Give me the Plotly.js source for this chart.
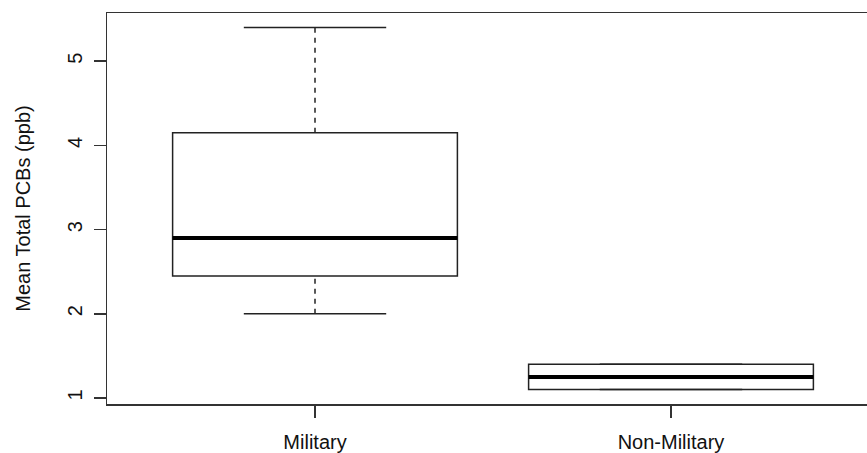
<!DOCTYPE html>
<html>
<head>
<meta charset="utf-8">
<script src="https://cdn.plot.ly/plotly-3.0.1.min.js"></script>
<style>html,body{margin:0;padding:0;background:#fff;}</style>
</head>
<body>
<div id="chart" style="width:867px;height:453px;"></div>
<script>
// Data
const categories = ['Military', 'Non-Military'];
const xPositions = [1, 2];
const minVals = [2.0, 1.1];
const q1Vals = [2.45, 1.1];
const medianVals = [2.9, 1.25];
const q3Vals = [4.15, 1.4];
const maxVals = [5.4, 1.4];
const yTicks = [1, 2, 3, 4, 5];

const BOX_W = 0.8;
const STAPLE_HALF = BOX_W / 4;
const LINE = '#222';

const boxTrace = {
  type: 'box',
  x: xPositions,
  q1: q1Vals,
  median: medianVals,
  q3: q3Vals,
  lowerfence: q1Vals,
  upperfence: q3Vals,
  width: BOX_W,
  whiskerwidth: 0,
  line: {color: LINE, width: 1.5},
  fillcolor: 'rgba(0,0,0,0)',
  boxpoints: false,
  showlegend: false,
  hoverinfo: 'skip'
};

const wx = [], wy = [];
const sx = [], sy = [];
const mx = [], my = [];
xPositions.forEach((x, i) => {
  if (maxVals[i] > q3Vals[i]) { wx.push(x, x, null); wy.push(q3Vals[i], maxVals[i], null); }
  if (minVals[i] < q1Vals[i]) { wx.push(x, x, null); wy.push(minVals[i], q1Vals[i], null); }
  sx.push(x - STAPLE_HALF, x + STAPLE_HALF, null, x - STAPLE_HALF, x + STAPLE_HALF, null);
  sy.push(maxVals[i], maxVals[i], null, minVals[i], minVals[i], null);
  mx.push(x - BOX_W / 2, x + BOX_W / 2, null);
  my.push(medianVals[i], medianVals[i], null);
});

const whiskers = {type: 'scatter', mode: 'lines', x: wx, y: wy,
  line: {color: LINE, width: 1.5, dash: '5px,5px'}, showlegend: false, hoverinfo: 'skip'};
const staples = {type: 'scatter', mode: 'lines', x: sx, y: sy,
  line: {color: LINE, width: 1.5}, showlegend: false, hoverinfo: 'skip'};
const medians = {type: 'scatter', mode: 'lines', x: mx, y: my,
  line: {color: '#000', width: 4}, showlegend: false, hoverinfo: 'skip'};

const font = {family: 'Liberation Sans, Arial, sans-serif', size: 20, color: '#111'};

const layout = {
  width: 867, height: 453, autosize: false,
  margin: {l: 107, r: 0, t: 13, b: 49, pad: 0},
  paper_bgcolor: '#fff', plot_bgcolor: '#fff',
  font: font,
  showlegend: false,
  xaxis: {
    range: [0.4157, 2.5506],
    tickvals: xPositions, ticktext: categories,
    ticks: 'outside', ticklen: 12, tickwidth: 1.5, tickcolor: '#333',
    showline: true, mirror: true, linecolor: '#333', linewidth: 1.5,
    showgrid: false, zeroline: false, fixedrange: true,
    tickfont: font, ticklabelstandoff: 7
  },
  yaxis: {
    range: [0.929, 5.572],
    tickvals: yTicks, ticktext: yTicks.map(String),
    tickangle: -90,
    ticks: 'outside', ticklen: 12, tickwidth: 1.5, tickcolor: '#333',
    showline: true, mirror: false, linecolor: '#333', linewidth: 1.5,
    showgrid: false, zeroline: false, fixedrange: true,
    tickfont: font, ticklabelstandoff: 4,
    automargin: false,
    title: {text: 'Mean Total PCBs (ppb)', font: font, standoff: 27}
  }
};

Plotly.newPlot('chart', [boxTrace, whiskers, staples, medians], layout, {staticPlot: true, displayModeBar: false});
</script>
</body>
</html>
